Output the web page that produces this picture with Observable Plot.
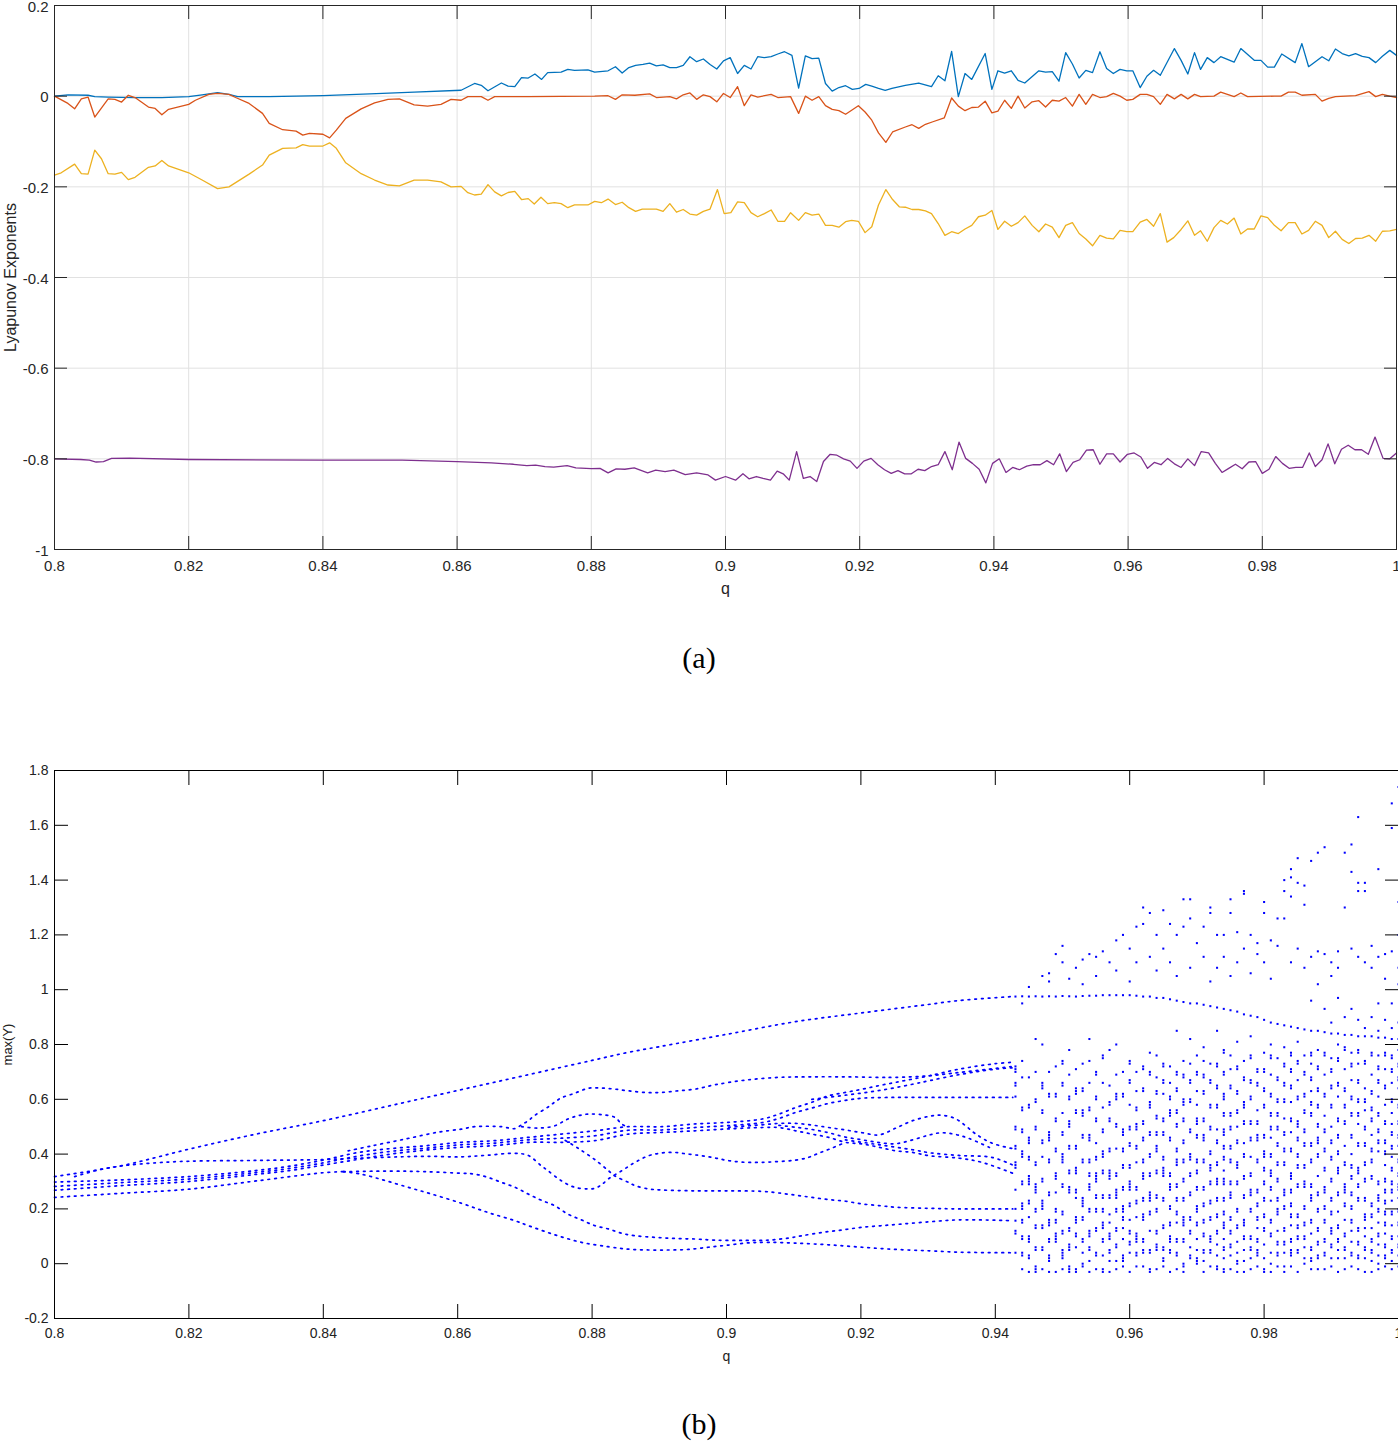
<!DOCTYPE html>
<html><head><meta charset="utf-8">
<script src="https://cdn.jsdelivr.net/npm/d3@7"></script>
<script src="https://cdn.jsdelivr.net/npm/@observablehq/plot@0.6"></script>
<style>
body{margin:0;background:#fff;width:1398px;height:1444px;position:relative;overflow:hidden}
.panel{position:absolute;left:0}
.cap{position:absolute;left:0;width:1398px;text-align:center;font-family:"Liberation Serif","DejaVu Serif",serif;font-size:30px;line-height:34px;color:#000}
</style></head><body>
<div id="a" class="panel" style="top:0"></div>
<div class="cap" style="top:641px">(a)</div>
<div id="b" class="panel" style="top:760px"></div>
<div class="cap" style="top:1407px">(b)</div>
<script>
// ---------- tick values ----------
const xTicks = [0.8,0.82,0.84,0.86,0.88,0.9,0.92,0.94,0.96,0.98,1];
const yTicksA = [-1,-0.8,-0.6,-0.4,-0.2,0,0.2];
const yTicksB = [-0.2,0,0.2,0.4,0.6,0.8,1,1.2,1.4,1.6,1.8];

// ---------- panel (a): Lyapunov exponents [q, value] ----------
const lyap1 = [[0.800,0.000],[0.802,0.003],[0.805,0.002],[0.806,-0.001],[0.808,-0.002],[0.812,-0.003],[0.816,-0.003],[0.820,-0.001],[0.822,0.003],[0.8243,0.008],[0.826,0.004],[0.8273,-0.001],[0.832,-0.001],[0.840,0.001],[0.847,0.005],[0.8536,0.009],[0.8606,0.013],
[0.8626,0.028],[0.8636,0.024],[0.8646,0.012],[0.8666,0.029],[0.8676,0.022],[0.8686,0.021],[0.8696,0.041],[0.8706,0.040],[0.8716,0.049],[0.8726,0.037],[0.8735,0.052],[0.8755,0.053],[0.8765,0.059],[0.8775,0.057],[0.8795,0.058],[0.8805,0.053],[0.8825,0.056],[0.8836,0.065],[0.8846,0.051],[0.8856,0.063],[0.8866,0.068],[0.8877,0.070],[0.8887,0.073],[0.8897,0.067],[0.8907,0.069],[0.8917,0.063],[0.8927,0.063],[0.8937,0.068],[0.8947,0.087],[0.8957,0.076],[0.8967,0.082],[0.8977,0.070],[0.8987,0.060],[0.8997,0.078],[0.9007,0.085],[0.9018,0.050],[0.9028,0.068],[0.9038,0.060],[0.9048,0.087],[0.9058,0.085],[0.9068,0.087],[0.9078,0.093],[0.9088,0.098],[0.9099,0.090],[0.9109,0.018],[0.9119,0.089],[0.9129,0.083],[0.9139,0.084],[0.9149,0.028],[0.9159,0.011],[0.9169,0.019],[0.9179,0.023],[0.9189,0.015],[0.9199,0.017],[0.9209,0.026],[0.9218,0.022],[0.9228,0.017],[0.9238,0.013],[0.9248,0.017],[0.9268,0.024],[0.9288,0.029],
[0.9307,0.021],[0.9317,0.045],[0.9327,0.034],[0.9337,0.099],[0.9347,-0.001],[0.9357,0.050],[0.9367,0.037],[0.9387,0.094],[0.9397,0.015],[0.9406,0.056],[0.9416,0.051],[0.9426,0.056],[0.9436,0.035],[0.9446,0.029],[0.9467,0.056],[0.9477,0.053],[0.9487,0.054],[0.9497,0.033],[0.9507,0.096],[0.9517,0.071],[0.9527,0.040],[0.9537,0.057],[0.9547,0.052],[0.9558,0.098],[0.9568,0.061],[0.9578,0.050],[0.9588,0.059],[0.9598,0.056],[0.9607,0.056],[0.9618,0.019],[0.9628,0.044],[0.9638,0.057],[0.9648,0.046],[0.9669,0.105],[0.9679,0.079],[0.9689,0.049],[0.9699,0.096],[0.9708,0.059],[0.9718,0.085],[0.9728,0.074],[0.9738,0.087],[0.9758,0.075],[0.9768,0.105],[0.9788,0.079],[0.9798,0.079],[0.9808,0.064],[0.9818,0.064],[0.9829,0.093],[0.9849,0.074],[0.9859,0.116],[0.9869,0.065],[0.9889,0.087],[0.9899,0.078],[0.9909,0.104],[0.9919,0.094],[0.9929,0.089],[0.9939,0.094],[0.9949,0.088],[0.9959,0.085],[0.9969,0.074],[0.9979,0.088],[0.9990,0.101],[1.000,0.090]];

const lyap2 = [[0.800,0.000],[0.802,-0.016],[0.803,-0.028],[0.804,-0.006],[0.805,-0.002],[0.806,-0.046],[0.808,-0.006],[0.809,-0.007],[0.810,-0.013],[0.811,0.002],[0.812,-0.003],[0.814,-0.024],[0.815,-0.027],[0.816,-0.041],[0.817,-0.029],[0.820,-0.018],[0.821,-0.009],[0.823,0.004],[0.8243,0.006],[0.826,0.004],[0.827,-0.003],[0.829,-0.016],[0.831,-0.038],[0.832,-0.060],[0.834,-0.074],[0.836,-0.077],[0.837,-0.086],[0.838,-0.082],[0.840,-0.084],[0.841,-0.092],[0.842,-0.075],[0.8434,-0.049],[0.8457,-0.028],[0.8477,-0.015],[0.8497,-0.007],[0.8514,-0.006],[0.8536,-0.019],[0.8556,-0.022],[0.8576,-0.018],[0.8591,-0.007],[0.8606,-0.009],[0.8616,-0.001],[0.8636,-0.001],[0.8646,-0.009],[0.8656,-0.001],[0.8706,-0.001],[0.8805,0.000],[0.8825,0.001],[0.8836,-0.007],[0.8846,0.003],[0.8865,0.002],[0.8887,0.005],[0.8897,-0.003],[0.8917,-0.001],[0.8927,-0.006],[0.8937,0.003],[0.8947,0.007],[0.8957,-0.007],[0.8967,0.003],[0.8977,-0.001],[0.8987,-0.0125],[0.8997,0.006],[0.9007,-0.003],[0.9018,0.021],[0.9028,-0.021],[0.9038,0.003],[0.9048,-0.002],[0.9068,0.004],[0.9078,-0.003],[0.9097,-0.001],[0.9109,-0.038],[0.9119,0.000],[0.9129,-0.009],[0.9139,-0.001],[0.9149,-0.021],[0.9159,-0.029],[0.9169,-0.032],[0.9179,-0.040],[0.9188,-0.031],[0.9198,-0.021],[0.9208,-0.035],[0.9218,-0.053],[0.9228,-0.081],[0.9239,-0.102],[0.9249,-0.079],[0.9268,-0.068],[0.9278,-0.063],[0.9288,-0.071],[0.9298,-0.062],[0.9308,-0.057],[0.9326,-0.048],[0.9337,-0.004],[0.9347,-0.022],[0.9357,-0.032],[0.9367,-0.025],[0.9377,-0.024],[0.9387,-0.011],[0.9397,-0.037],[0.9406,-0.033],[0.9416,-0.009],[0.9426,-0.027],[0.9436,0.000],[0.9446,-0.026],[0.9457,-0.0125],[0.9467,-0.010],[0.9477,-0.024],[0.9487,-0.009],[0.9497,-0.011],[0.9507,-0.003],[0.9517,-0.022],[0.9527,0.004],[0.9537,-0.018],[0.9547,0.004],[0.9558,-0.003],[0.9568,-0.001],[0.9578,0.006],[0.9588,0.000],[0.9598,-0.009],[0.9607,-0.007],[0.9618,0.004],[0.9628,0.004],[0.9638,-0.001],[0.9648,-0.018],[0.9658,0.004],[0.9669,-0.006],[0.9679,0.004],[0.9689,-0.006],[0.9699,0.004],[0.9708,-0.001],[0.9728,0.000],[0.9738,0.009],[0.9758,-0.001],[0.9768,0.007],[0.9778,-0.001],[0.9818,0.000],[0.9828,0.000],[0.9839,0.009],[0.9849,0.009],[0.9859,0.002],[0.9879,0.004],[0.9889,-0.011],[0.9899,-0.005],[0.9909,-0.001],[0.9939,0.001],[0.9959,0.010],[0.9969,-0.001],[0.9979,0.004],[0.9990,0.000],[1.000,-0.003]];

const lyap3 = [[0.800,-0.174],[0.801,-0.169],[0.803,-0.150],[0.804,-0.171],[0.805,-0.172],[0.806,-0.119],[0.807,-0.138],[0.808,-0.171],[0.809,-0.172],[0.810,-0.168],[0.811,-0.184],[0.812,-0.179],[0.814,-0.157],[0.815,-0.154],[0.816,-0.142],[0.817,-0.154],[0.820,-0.169],[0.822,-0.185],[0.8243,-0.204],[0.826,-0.200],[0.829,-0.172],[0.831,-0.152],[0.832,-0.130],[0.834,-0.115],[0.836,-0.114],[0.837,-0.107],[0.838,-0.110],[0.840,-0.110],[0.841,-0.103],[0.842,-0.115],[0.8434,-0.147],[0.8457,-0.171],[0.8477,-0.185],[0.8497,-0.196],[0.8514,-0.198],[0.8536,-0.185],[0.8556,-0.185],[0.8576,-0.189],[0.8591,-0.200],[0.8606,-0.199],[0.8616,-0.213],[0.8626,-0.218],[0.8636,-0.216],[0.8646,-0.195],[0.8656,-0.211],[0.8666,-0.220],[0.8676,-0.2125],[0.8686,-0.210],[0.8696,-0.228],[0.8706,-0.226],[0.8715,-0.238],[0.8725,-0.223],[0.8735,-0.237],[0.8745,-0.235],[0.8755,-0.237],[0.8765,-0.246],[0.8775,-0.240],[0.8795,-0.240],[0.8805,-0.232],[0.8815,-0.235],[0.8825,-0.227],[0.8836,-0.239],[0.8846,-0.234],[0.8856,-0.246],[0.8866,-0.254],[0.8876,-0.249],[0.8897,-0.249],[0.8907,-0.254],[0.8917,-0.237],[0.8927,-0.256],[0.8937,-0.250],[0.8947,-0.260],[0.8957,-0.2625],[0.8967,-0.254],[0.8977,-0.249],[0.8988,-0.206],[0.8998,-0.259],[0.9008,-0.257],[0.9018,-0.233],[0.9028,-0.235],[0.9038,-0.257],[0.9048,-0.266],[0.9058,-0.259],[0.9068,-0.251],[0.9078,-0.276],[0.9088,-0.276],[0.9097,-0.257],[0.9109,-0.274],[0.9119,-0.257],[0.9129,-0.2625],[0.9139,-0.260],[0.9149,-0.285],[0.9159,-0.285],[0.9169,-0.289],[0.9179,-0.277],[0.9188,-0.274],[0.9198,-0.276],[0.9208,-0.301],[0.9218,-0.288],[0.9228,-0.240],[0.9239,-0.206],[0.9249,-0.228],[0.9259,-0.244],[0.9268,-0.245],[0.9278,-0.250],[0.9288,-0.250],[0.9298,-0.253],[0.9307,-0.259],[0.9317,-0.281],[0.9327,-0.307],[0.9337,-0.299],[0.9347,-0.303],[0.9357,-0.293],[0.9367,-0.285],[0.9377,-0.266],[0.9387,-0.2625],[0.9397,-0.252],[0.9406,-0.294],[0.9416,-0.276],[0.9426,-0.287],[0.9436,-0.279],[0.9446,-0.264],[0.9457,-0.285],[0.9467,-0.299],[0.9477,-0.282],[0.9487,-0.289],[0.9497,-0.312],[0.9507,-0.285],[0.9517,-0.279],[0.9527,-0.303],[0.9537,-0.315],[0.9547,-0.330],[0.9558,-0.307],[0.9568,-0.313],[0.9578,-0.315],[0.9588,-0.296],[0.9598,-0.299],[0.9607,-0.299],[0.9618,-0.278],[0.9628,-0.272],[0.9638,-0.287],[0.9648,-0.259],[0.9658,-0.322],[0.9668,-0.312],[0.9679,-0.294],[0.9689,-0.275],[0.9699,-0.307],[0.9708,-0.297],[0.9718,-0.320],[0.9728,-0.290],[0.9738,-0.274],[0.9748,-0.282],[0.9758,-0.269],[0.9768,-0.304],[0.9778,-0.293],[0.9788,-0.293],[0.9798,-0.264],[0.9808,-0.268],[0.9818,-0.285],[0.9828,-0.297],[0.9839,-0.279],[0.9849,-0.279],[0.9859,-0.304],[0.9869,-0.296],[0.9879,-0.276],[0.9889,-0.285],[0.9899,-0.312],[0.9909,-0.298],[0.9919,-0.316],[0.9929,-0.325],[0.9939,-0.314],[0.9949,-0.313],[0.9959,-0.307],[0.9969,-0.320],[0.9979,-0.298],[0.9990,-0.297],[1.000,-0.294]];

const lyap4 = [[0.800,-0.800],[0.8039,-0.8015],[0.8052,-0.803],[0.8062,-0.807],[0.8073,-0.806],[0.8085,-0.799],[0.8112,-0.7985],[0.820,-0.8015],[0.840,-0.803],[0.8518,-0.803],[0.860,-0.806],[0.8651,-0.809],[0.8684,-0.812],[0.8704,-0.815],[0.8717,-0.814],[0.8731,-0.817],[0.8744,-0.8185],[0.8764,-0.815],[0.8777,-0.820],[0.880,-0.8215],[0.8813,-0.821],[0.8825,-0.831],[0.8837,-0.822],[0.885,-0.823],[0.8864,-0.820],[0.8884,-0.831],[0.8896,-0.825],[0.891,-0.828],[0.8923,-0.825],[0.894,-0.835],[0.8957,-0.831],[0.8974,-0.8355],[0.8985,-0.847],[0.900,-0.839],[0.9015,-0.847],[0.9026,-0.833],[0.9035,-0.844],[0.9046,-0.839],[0.9056,-0.843],[0.9067,-0.847],[0.9077,-0.827],[0.9086,-0.833],[0.9095,-0.847],[0.9106,-0.784],[0.9116,-0.843],[0.9126,-0.839],[0.9136,-0.850],[0.9146,-0.806],[0.9156,-0.790],[0.9166,-0.792],[0.9176,-0.800],[0.9186,-0.805],[0.9196,-0.821],[0.9206,-0.805],[0.9217,-0.799],[0.9227,-0.813],[0.9237,-0.824],[0.9247,-0.832],[0.9257,-0.826],[0.9267,-0.833],[0.9277,-0.833],[0.9287,-0.823],[0.9297,-0.826],[0.9307,-0.817],[0.9317,-0.813],[0.9327,-0.784],[0.9338,-0.824],[0.9348,-0.763],[0.9358,-0.799],[0.9368,-0.810],[0.9378,-0.823],[0.9388,-0.853],[0.9398,-0.810],[0.9408,-0.800],[0.9418,-0.830],[0.9428,-0.819],[0.9438,-0.824],[0.9449,-0.816],[0.9459,-0.813],[0.9469,-0.813],[0.9479,-0.804],[0.9489,-0.813],[0.9498,-0.789],[0.9508,-0.828],[0.9518,-0.808],[0.9528,-0.802],[0.9538,-0.781],[0.9548,-0.780],[0.9558,-0.812],[0.9568,-0.789],[0.9578,-0.789],[0.9588,-0.807],[0.9599,-0.790],[0.9609,-0.787],[0.9619,-0.796],[0.9629,-0.821],[0.9639,-0.808],[0.9649,-0.813],[0.9659,-0.799],[0.9669,-0.811],[0.9679,-0.819],[0.9689,-0.800],[0.9699,-0.815],[0.9709,-0.784],[0.9720,-0.787],[0.9730,-0.810],[0.9740,-0.830],[0.9750,-0.821],[0.9760,-0.812],[0.9770,-0.822],[0.9780,-0.807],[0.9790,-0.806],[0.9800,-0.832],[0.9810,-0.823],[0.9820,-0.795],[0.9830,-0.810],[0.9840,-0.821],[0.9850,-0.819],[0.9860,-0.819],[0.9870,-0.787],[0.9879,-0.817],[0.9889,-0.802],[0.9898,-0.767],[0.9908,-0.811],[0.9918,-0.779],[0.9928,-0.770],[0.9938,-0.780],[0.9948,-0.780],[0.9958,-0.790],[0.9968,-0.752],[0.9980,-0.799],[0.9990,-0.800],[1.000,-0.787]];

// ---------- panel (b): periodic branches [q, max(Y)] ----------
const brTop = [[0.800,0.318],[0.810,0.358],[0.820,0.418],[0.830,0.473],[0.840,0.522],[0.850,0.577],[0.8605,0.635],[0.870,0.687],[0.880,0.742],[0.8853,0.771],[0.890,0.792],[0.900,0.837],[0.9102,0.883],[0.920,0.915],[0.930,0.946],[0.9344,0.960],[0.9426,0.975]];
const brS = [[0.803,0.318],[0.807,0.345],[0.810,0.357],[0.815,0.368],[0.820,0.374],[0.830,0.377],[0.840,0.380],[0.845,0.385],[0.850,0.389],[0.855,0.392],[0.8605,0.390],[0.8645,0.396],[0.8685,0.403],[0.8705,0.395],[0.8724,0.358],[0.8734,0.340],[0.8754,0.303],[0.8774,0.279],[0.8794,0.273],[0.8804,0.275],[0.8814,0.288],[0.8824,0.309],[0.8844,0.339],[0.8864,0.370],[0.8884,0.394],[0.8903,0.404],[0.8923,0.406],[0.8943,0.400],[0.8963,0.394],[0.8983,0.386],[0.9003,0.376],[0.9028,0.370],[0.9053,0.370],[0.9078,0.373],[0.9103,0.378],[0.9122,0.388],[0.9137,0.403],[0.9157,0.422],[0.9177,0.443]];
const brBand1 = [[0.800,0.298],[0.810,0.306],[0.820,0.318],[0.830,0.340],[0.835,0.356],[0.840,0.378],[0.845,0.405],[0.850,0.420],[0.855,0.430],[0.8605,0.443],[0.8655,0.449],[0.8705,0.461],[0.8754,0.473],[0.8804,0.485],[0.8854,0.500],[0.8904,0.500],[0.8953,0.510],[0.9003,0.516],[0.9053,0.528],[0.9078,0.546],[0.9103,0.570],[0.9127,0.589],[0.9152,0.613],[0.9177,0.625],[0.9202,0.637],[0.9227,0.650],[0.9252,0.662],[0.9277,0.674],[0.9302,0.686],[0.9346,0.710],[0.9400,0.730],[0.9426,0.735]];
const brBand2 = [[0.800,0.282],[0.810,0.296],[0.820,0.309],[0.830,0.333],[0.835,0.348],[0.840,0.368],[0.845,0.392],[0.850,0.410],[0.855,0.421],[0.8605,0.434],[0.8655,0.440],[0.8705,0.452],[0.8754,0.458],[0.8804,0.467],[0.8854,0.487],[0.8904,0.488],[0.8953,0.497],[0.9003,0.504],[0.9053,0.515],[0.9078,0.530],[0.9103,0.552],[0.9127,0.568],[0.9152,0.585],[0.9177,0.596],[0.9202,0.604],[0.9252,0.607],[0.9302,0.607],[0.9346,0.607],[0.9426,0.607]];
const brBand3 = [[0.800,0.268],[0.810,0.285],[0.820,0.300],[0.830,0.326],[0.835,0.340],[0.840,0.360],[0.845,0.380],[0.850,0.400],[0.855,0.414],[0.8605,0.425],[0.8655,0.431],[0.8705,0.443],[0.8754,0.443],[0.8804,0.449],[0.8854,0.473],[0.8904,0.479],[0.8953,0.485],[0.9003,0.492],[0.9053,0.497],[0.9078,0.497],[0.9103,0.485],[0.9127,0.473],[0.9152,0.461],[0.9177,0.443],[0.9202,0.437],[0.9227,0.425],[0.9252,0.412],[0.9277,0.406],[0.9302,0.394],[0.9346,0.385],[0.9380,0.370],[0.9426,0.330]];
const brBand4 = [[0.9003,0.498],[0.9053,0.507],[0.9078,0.512],[0.9103,0.512],[0.9127,0.506],[0.9152,0.497],[0.9177,0.488],[0.9202,0.478],[0.9227,0.470],[0.9252,0.495],[0.9277,0.522],[0.9302,0.538],[0.9320,0.542],[0.9340,0.530],[0.9355,0.505],[0.9370,0.475],[0.9395,0.440],[0.9426,0.420]];
const brBand5 = [[0.9078,0.505],[0.9103,0.498],[0.9127,0.490],[0.9152,0.478],[0.9177,0.462],[0.9202,0.452],[0.9227,0.442],[0.9252,0.438],[0.9277,0.452],[0.9302,0.470],[0.9320,0.478],[0.9340,0.472],[0.9360,0.458],[0.9395,0.420]];
const brBand6 = [[0.9127,0.600],[0.9177,0.615],[0.9227,0.632],[0.9277,0.655],[0.9302,0.668],[0.9346,0.690],[0.9400,0.710],[0.9426,0.715]];
const brBand7 = [[0.9177,0.452],[0.9227,0.434],[0.9277,0.416],[0.9302,0.405],[0.9346,0.395],[0.9395,0.388],[0.9426,0.360]];
const brLow0 = [[0.800,0.242],[0.810,0.257],[0.820,0.272],[0.830,0.302],[0.840,0.332],[0.843,0.336]];
const brDown = [[0.843,0.336],[0.8456,0.327],[0.849,0.305],[0.8526,0.279],[0.856,0.255],[0.8605,0.221],[0.8645,0.187],[0.8685,0.157],[0.8705,0.139],[0.8744,0.106],[0.8784,0.078],[0.8824,0.062],[0.8854,0.053],[0.8884,0.050],[0.8914,0.050],[0.8943,0.052],[0.8973,0.060],[0.9003,0.068],[0.9033,0.076],[0.9063,0.078],[0.9103,0.075],[0.9152,0.069],[0.9202,0.060],[0.9252,0.052],[0.9302,0.047],[0.9346,0.042],[0.9426,0.040]];
const brUp = [[0.843,0.336],[0.850,0.338],[0.855,0.336],[0.8605,0.330],[0.8625,0.327],[0.8645,0.315],[0.8665,0.297],[0.8685,0.279],[0.8705,0.254],[0.8724,0.232],[0.8744,0.212],[0.8764,0.181],[0.8784,0.160],[0.8804,0.139],[0.8824,0.127],[0.8844,0.111],[0.8864,0.102],[0.8894,0.096],[0.8923,0.092],[0.8953,0.090],[0.8983,0.086],[0.9028,0.085],[0.9063,0.086],[0.9093,0.094],[0.9112,0.102],[0.9142,0.114],[0.9172,0.123],[0.9202,0.133],[0.9232,0.139],[0.9262,0.145],[0.9302,0.153],[0.9346,0.160],[0.9426,0.157]];
const brH = [[0.8437,0.412],[0.8472,0.430],[0.8522,0.455],[0.8571,0.480],[0.8605,0.491],[0.8625,0.500],[0.8665,0.500],[0.8685,0.493],[0.8695,0.507],[0.8705,0.522],[0.8714,0.540],[0.8734,0.571],[0.8744,0.589],[0.8754,0.605],[0.8774,0.622],[0.8794,0.640],[0.8814,0.641],[0.8834,0.637],[0.8854,0.631],[0.8878,0.625],[0.8903,0.625],[0.8928,0.631],[0.8953,0.637],[0.8983,0.653],[0.9028,0.670],[0.9078,0.680],[0.9127,0.682],[0.9177,0.682],[0.9227,0.680],[0.9252,0.680],[0.9302,0.686],[0.9346,0.698],[0.9426,0.720]];
const brG = [[0.8695,0.500],[0.8720,0.495],[0.8744,0.503],[0.8764,0.528],[0.8779,0.540],[0.8794,0.546],[0.8814,0.544],[0.8834,0.534],[0.8844,0.510],[0.8854,0.497]];
const brF = [[0.8760,0.450],[0.8780,0.420],[0.8804,0.380],[0.8824,0.340],[0.8834,0.320],[0.8854,0.297],[0.8864,0.285],[0.8884,0.273],[0.8903,0.269],[0.8953,0.266],[0.9003,0.266],[0.9053,0.264],[0.9078,0.258],[0.9103,0.250],[0.9127,0.242],[0.9152,0.234],[0.9177,0.228],[0.9202,0.218],[0.9227,0.212],[0.9252,0.206],[0.9302,0.202],[0.9346,0.200],[0.9426,0.200]];
const branches = [brTop, brS, brBand1, brBand2, brBand3, brBand4, brBand5, brBand6, brBand7, brLow0, brDown, brUp, brH, brG, brF];

// ---------- panel (b): chaotic region, maxima per q column ----------
const chaosQ = [0.943,0.944,0.945,0.946,0.947,0.948,0.949,0.950,0.951,0.952,0.953,0.954,0.955,0.956,0.957,0.958,0.959,0.960,0.961,0.962,0.963,0.964,0.965,0.966,0.967,0.968,0.969,0.970,0.971,0.972,0.973,0.974,0.975,0.976,0.977,0.978,0.979,0.980,0.981,0.982,0.983,0.984,0.985,0.986,0.987,0.988,0.989,0.990,0.991,0.992,0.993,0.994,0.995,0.996,0.997,0.998,0.999,1.000];
const chaosV = [
[0.975,0.72,0.71,0.70,0.61,0.50,0.49,0.37,0.36,0.35,0.2,0.157,0.04],
[0.976,0.95,0.74,0.57,0.56,0.41,0.40,0.39,0.22,0.21,0.20,0.16,0.15,0.04,0.03],
[1.01,0.975,0.68,0.46,0.45,0.44,0.32,0.31,0.30,0.29,0.17,0.10,0.09,0.08],
[0.976,0.82,0.60,0.59,0.29,0.28,0.27,0.26,0.14,0.13,-0.01,-0.02,-0.03],
[1.05,0.975,0.66,0.65,0.64,0.39,0.23,0.22,0.21,0.20,0.06,0.05],
[1.06,1.03,0.976,0.70,0.48,0.47,0.46,0.45,0.16,0.15,0.14,0.03,0.02,0.01],
[1.13,0.975,0.62,0.61,0.33,0.32,0.31,0.26,0.11,0.10,0.09,0.08,-0.03],
[1.16,1.10,0.977,0.74,0.73,0.55,0.40,0.39,0.38,0.37,0.19,0.18,0.05,0.04,0.03,0.02],
[1.04,0.976,0.69,0.52,0.51,0.50,0.28,0.27,0.26,0.13,0.12,-0.01,-0.02,-0.03],
[1.08,0.975,0.64,0.63,0.62,0.43,0.42,0.35,0.34,0.33,0.17,0.16,0.15,0.06],
[1.11,1.02,0.977,0.73,0.56,0.55,0.54,0.24,0.23,0.22,0.21,0.09,0.08,0.0,-0.01],
[1.13,0.978,0.82,0.66,0.47,0.46,0.45,0.38,0.37,0.29,0.28,0.27,0.12,0.11,0.10,-0.03],
[1.12,1.05,0.978,0.61,0.60,0.44,0.33,0.32,0.31,0.30,0.20,0.19,0.04,0.03],
[1.14,0.98,0.76,0.75,0.57,0.41,0.40,0.39,0.25,0.24,0.15,0.14,0.13,-0.02,-0.03],
[1.10,0.98,0.65,0.53,0.52,0.34,0.33,0.32,0.31,0.18,0.11,0.10,0.09,0.01],
[1.18,1.07,0.98,0.80,0.62,0.61,0.60,0.42,0.27,0.26,0.25,0.24,0.07,0.06,-0.02],
[1.20,0.98,0.70,0.49,0.48,0.47,0.36,0.35,0.21,0.20,0.19,0.13,0.03,0.02,0.01],
[1.15,1.03,0.98,0.67,0.66,0.58,0.44,0.43,0.30,0.29,0.28,0.27,0.16,0.08,0.07,-0.03],
[1.23,1.10,0.978,0.63,0.51,0.50,0.49,0.37,0.23,0.22,0.11,0.10,0.09,0.08,-0.01],
[1.30,1.24,0.975,0.72,0.71,0.46,0.45,0.33,0.32,0.31,0.18,0.17,0.16,0.05,0.04],
[1.28,1.12,0.975,0.77,0.59,0.58,0.57,0.40,0.39,0.26,0.25,0.24,0.23,0.12,-0.02,-0.03],
[1.20,1.07,0.97,0.68,0.54,0.53,0.43,0.42,0.41,0.20,0.19,0.07,0.06,0.05],
[1.29,1.15,0.97,0.73,0.72,0.62,0.48,0.47,0.35,0.34,0.33,0.32,0.14,0.13,0.02,0.01],
[1.24,1.10,0.965,0.66,0.56,0.55,0.54,0.29,0.28,0.27,0.21,0.20,0.10,0.09,0.08,-0.03],
[1.20,1.05,0.96,0.85,0.70,0.69,0.51,0.50,0.38,0.37,0.36,0.24,0.23,0.15,0.04,0.03],
[1.33,1.23,0.955,0.74,0.60,0.59,0.58,0.45,0.44,0.31,0.30,0.17,0.16,0.15,0.14,0.0,-0.01],
[1.33,1.26,1.08,0.95,0.82,0.67,0.66,0.40,0.39,0.38,0.26,0.25,0.12,0.11,0.06],
[1.17,0.95,0.76,0.63,0.53,0.52,0.51,0.34,0.33,0.21,0.20,0.19,0.09,0.02,0.01,0.0],
[1.23,1.12,0.945,0.79,0.69,0.68,0.47,0.46,0.45,0.28,0.27,0.16,0.15,0.05,0.04,-0.03],
[1.30,1.28,1.03,0.94,0.73,0.58,0.57,0.41,0.40,0.36,0.35,0.34,0.23,0.22,0.10,0.09,0.08],
[1.20,1.08,0.935,0.85,0.65,0.64,0.49,0.31,0.30,0.29,0.18,0.17,0.07,-0.01,-0.02],
[1.20,1.12,0.93,0.78,0.77,0.62,0.61,0.60,0.49,0.48,0.47,0.39,0.38,0.31,0.30,0.29,0.24,0.23,0.15,0.14,0.13,0.06,0.05,-0.02,-0.03],
[1.33,1.28,1.05,0.925,0.71,0.55,0.54,0.43,0.42,0.26,0.25,0.24,0.12,0.11,0.03],
[1.21,1.10,0.92,0.81,0.63,0.62,0.50,0.37,0.36,0.35,0.20,0.19,0.08,0.01,0.0],
[1.36,1.35,1.15,0.91,0.74,0.59,0.58,0.57,0.44,0.32,0.31,0.16,0.15,0.14,0.05,-0.03],
[1.20,1.06,0.905,0.83,0.67,0.66,0.52,0.51,0.39,0.27,0.26,0.25,0.10,0.09,0.02],
[1.17,1.13,0.90,0.71,0.70,0.56,0.47,0.46,0.45,0.22,0.21,0.13,0.05,0.04,0.03],
[1.32,1.28,1.10,0.89,0.77,0.64,0.63,0.41,0.40,0.39,0.30,0.29,0.18,0.17,0.07,-0.02,-0.03],
[1.18,1.04,0.88,0.80,0.69,0.55,0.54,0.46,0.34,0.33,0.32,0.23,0.11,0.10,0.0],
[1.26,1.16,0.875,0.75,0.60,0.59,0.50,0.49,0.37,0.36,0.20,0.19,0.18,0.12,0.04,0.03],
[1.40,1.36,1.26,0.87,0.79,0.66,0.65,0.53,0.42,0.41,0.27,0.26,0.25,0.08,0.07,-0.01],
[1.44,1.41,1.34,1.10,0.865,0.71,0.70,0.59,0.48,0.33,0.32,0.31,0.22,0.21,0.14,0.05,0.04,0.03],
[1.48,1.39,1.15,0.86,0.81,0.67,0.52,0.51,0.50,0.36,0.35,0.18,0.17,0.10,0.09,-0.03],
[1.38,1.31,1.08,0.855,0.76,0.62,0.61,0.44,0.43,0.30,0.29,0.28,0.15,0.14,0.06,0.0],
[1.47,1.12,0.96,0.85,0.73,0.63,0.55,0.54,0.38,0.37,0.25,0.24,0.23,0.11,0.02,0.01],
[1.50,1.14,1.02,0.85,0.78,0.58,0.57,0.46,0.45,0.44,0.32,0.20,0.19,0.08,0.07,-0.02],
[1.52,1.13,0.93,0.845,0.69,0.54,0.42,0.41,0.28,0.27,0.26,0.16,0.15,0.04,0.03],
[1.10,1.05,0.88,0.84,0.75,0.65,0.64,0.50,0.39,0.38,0.24,0.23,0.13,0.12,0.11,-0.01],
[1.14,1.08,0.97,0.84,0.80,0.61,0.47,0.46,0.35,0.34,0.33,0.19,0.09,0.08,0.02,-0.03],
[1.50,1.30,0.90,0.835,0.71,0.58,0.57,0.43,0.29,0.28,0.27,0.26,0.16,0.06,0.05],
[1.53,1.43,1.15,0.93,0.835,0.77,0.67,0.55,0.54,0.40,0.32,0.31,0.21,0.20,0.12,0.04,0.03],
[1.63,1.39,1.36,1.12,0.89,0.83,0.73,0.60,0.59,0.51,0.35,0.34,0.33,0.24,0.23,0.08,0.07,-0.02],
[1.39,1.36,1.10,0.86,0.83,0.64,0.56,0.44,0.43,0.31,0.30,0.18,0.17,0.16,0.10,0.02],
[1.16,1.08,0.90,0.83,0.69,0.53,0.52,0.47,0.38,0.37,0.22,0.21,0.13,0.05,0.04,-0.03],
[1.44,1.12,0.95,0.85,0.825,0.76,0.61,0.49,0.48,0.41,0.25,0.24,0.23,0.15,0.07,0.0],
[1.13,1.04,0.89,0.825,0.71,0.58,0.45,0.44,0.36,0.27,0.26,0.19,0.18,0.11,0.03,0.02],
[1.68,1.59,1.14,0.95,0.86,0.82,0.66,0.55,0.48,0.47,0.39,0.30,0.29,0.23,0.14,0.05,0.04,-0.02],
[1.74,1.32,1.20,1.08,1.02,0.88,0.82,0.78,0.64,0.52,0.51,0.43,0.33,0.32,0.27,0.20,0.19,0.10,0.03]
];
// further maxima in the same columns (lower, denser part of the cloud)
const chaosV2 = [
[0.66,0.65,0.43,0.42,0.27,0.12,0.11],
[0.68,0.49,0.48,0.30,0.29,0.10,0.09,-0.02],
[0.58,0.57,0.39,0.38,0.23,0.22,0.03,0.02,-0.03],
[0.70,0.50,0.49,0.37,0.36,0.20,0.19,0.06,0.05],
[0.80,0.56,0.55,0.45,0.44,0.31,0.30,0.14,0.13,-0.02],
[0.62,0.61,0.38,0.37,0.26,0.25,0.09,0.08,-0.03],
[0.72,0.53,0.52,0.42,0.41,0.20,0.19,0.16,0.15],
[0.66,0.65,0.48,0.47,0.29,0.28,0.12,0.11,-0.02],
[0.78,0.61,0.60,0.43,0.42,0.34,0.33,0.07,0.06,0.05],
[0.71,0.56,0.55,0.27,0.26,0.24,0.11,0.10,-0.02,-0.03],
[0.64,0.63,0.47,0.46,0.38,0.37,0.17,0.16,0.04],
[0.74,0.57,0.56,0.33,0.32,0.20,0.19,0.06,0.05,0.01],
[0.70,0.69,0.53,0.52,0.39,0.38,0.25,0.24,0.13,0.12,-0.02],
[0.66,0.49,0.48,0.34,0.33,0.20,0.19,0.09,0.08,0.03],
[0.78,0.59,0.58,0.42,0.41,0.25,0.24,0.15,0.05,0.04,-0.03],
[0.69,0.51,0.50,0.33,0.32,0.20,0.19,0.13,0.12,0.01],
[0.62,0.61,0.42,0.41,0.28,0.27,0.17,0.16,0.09,-0.01],
[0.74,0.73,0.50,0.49,0.36,0.35,0.22,0.21,0.12,0.11,0.04],
[0.70,0.57,0.56,0.43,0.42,0.28,0.27,0.17,0.04,0.03],
[0.64,0.63,0.52,0.51,0.38,0.37,0.24,0.23,0.09,0.08,-0.01],
[0.70,0.69,0.48,0.47,0.33,0.32,0.19,0.18,0.05,0.04],
[0.76,0.63,0.62,0.48,0.47,0.34,0.33,0.25,0.24,0.12,0.11,-0.02],
[0.67,0.66,0.53,0.52,0.39,0.38,0.24,0.23,0.06,0.05,-0.01],
[0.72,0.61,0.60,0.46,0.45,0.33,0.32,0.15,0.14,0.05,0.04],
[0.64,0.63,0.56,0.55,0.42,0.41,0.29,0.28,0.19,0.18,0.09,0.08,-0.02],
[0.69,0.68,0.53,0.52,0.38,0.37,0.24,0.23,0.09,0.08,-0.03],
[0.73,0.60,0.59,0.49,0.48,0.33,0.32,0.17,0.16,0.03,0.02],
[0.70,0.69,0.58,0.47,0.46,0.38,0.37,0.28,0.27,0.15,0.14,0.05],
[0.74,0.63,0.62,0.53,0.52,0.38,0.37,0.22,0.21,0.11,0.10,0.01],
[0.67,0.66,0.50,0.49,0.30,0.29,0.17,0.16,0.05,0.04,-0.01],
[0.73,0.72,0.58,0.57,0.45,0.44,0.37,0.36,0.24,0.23,0.12,0.11,0.03],
[0.70,0.69,0.55,0.54,0.43,0.42,0.34,0.19,0.18,0.09,0.02],
[0.76,0.65,0.64,0.50,0.49,0.38,0.37,0.30,0.29,0.17,0.16,0.07,0.06,-0.02],
[0.72,0.71,0.56,0.55,0.45,0.44,0.30,0.29,0.14,0.13,0.04,-0.03],
[0.68,0.67,0.52,0.51,0.40,0.39,0.25,0.24,0.10,0.09,0.01],
[0.76,0.75,0.61,0.60,0.46,0.45,0.33,0.32,0.20,0.19,0.06,0.05,-0.02],
[0.66,0.65,0.52,0.51,0.38,0.37,0.27,0.26,0.17,0.16,0.09,0.08,-0.01],
[0.71,0.70,0.58,0.57,0.47,0.46,0.35,0.34,0.24,0.23,0.13,0.12,0.02],
[0.76,0.75,0.62,0.61,0.50,0.49,0.40,0.39,0.28,0.27,0.16,0.15,0.04,-0.03],
[0.68,0.67,0.55,0.54,0.44,0.43,0.31,0.30,0.24,0.23,0.08,0.07,-0.01],
[0.73,0.72,0.60,0.59,0.48,0.47,0.37,0.36,0.21,0.20,0.13,0.12,0.04,-0.03],
[0.77,0.76,0.65,0.64,0.53,0.52,0.42,0.41,0.27,0.26,0.18,0.17,0.09,0.08,-0.01],
[0.74,0.73,0.61,0.60,0.46,0.45,0.40,0.39,0.29,0.28,0.14,0.13,0.05,0.04],
[0.70,0.69,0.56,0.55,0.49,0.48,0.36,0.35,0.21,0.20,0.10,0.09,0.02],
[0.77,0.76,0.68,0.67,0.59,0.58,0.44,0.43,0.29,0.28,0.16,0.15,0.06,0.05,-0.02],
[0.72,0.71,0.64,0.63,0.51,0.50,0.40,0.39,0.26,0.25,0.13,0.12,0.03,0.02],
[0.77,0.76,0.62,0.61,0.49,0.48,0.35,0.34,0.21,0.20,0.09,0.08,-0.02],
[0.71,0.70,0.58,0.57,0.45,0.44,0.31,0.30,0.19,0.18,0.07,0.06,0.02],
[0.75,0.74,0.66,0.65,0.53,0.52,0.41,0.40,0.26,0.25,0.14,0.13,0.05],
[0.79,0.78,0.64,0.63,0.52,0.51,0.37,0.36,0.22,0.21,0.11,0.10,0.02,-0.02],
[0.73,0.72,0.61,0.60,0.47,0.46,0.36,0.35,0.26,0.25,0.16,0.15,0.08,-0.01],
[0.78,0.77,0.67,0.66,0.55,0.54,0.44,0.43,0.29,0.28,0.13,0.12,0.03,0.02],
[0.74,0.73,0.60,0.59,0.50,0.49,0.37,0.36,0.24,0.23,0.13,0.06,0.05,-0.03],
[0.77,0.76,0.63,0.62,0.57,0.56,0.42,0.41,0.32,0.31,0.18,0.17,0.09,0.08,0.01],
[0.72,0.71,0.67,0.66,0.55,0.54,0.45,0.44,0.30,0.29,0.20,0.19,0.11,0.10,0.03,-0.02],
[0.77,0.76,0.65,0.64,0.52,0.51,0.41,0.40,0.31,0.30,0.23,0.22,0.15,0.14,0.07,0.06,-0.01],
[0.76,0.75,0.71,0.70,0.60,0.59,0.51,0.43,0.42,0.35,0.34,0.27,0.26,0.19,0.18,0.10,0.09,0.01],
[0.73,0.72,0.68,0.67,0.58,0.57,0.47,0.46,0.38,0.37,0.29,0.28,0.24,0.15,0.14,0.07,0.06,-0.01]
];

// ---------- helpers ----------
const fmt = d => String(Math.round(d * 100) / 100);
const blank = () => "";
const qx = d => d[0], vy = d => d[1];
const font = "'Liberation Sans', Arial, Helvetica, sans-serif";

// ---------- panel (a) ----------
const axA = "#262626";
const plotA = Plot.plot({
  width: 1398, height: 600,
  marginLeft: 54, marginRight: 2, marginTop: 5, marginBottom: 51,
  x: {domain: [0.8, 1]},
  y: {domain: [-1, 0.2]},
  style: {fontFamily: font, fontSize: "15px", color: axA, background: "white", overflow: "visible"},
  marks: [
    Plot.gridX(xTicks, {stroke: "#e1e1e1", strokeOpacity: 1}),
    Plot.gridY(yTicksA, {stroke: "#e1e1e1", strokeOpacity: 1}),
    Plot.line(lyap1, {x: qx, y: vy, stroke: "#0072BD", strokeWidth: 1.3}),
    Plot.line(lyap2, {x: qx, y: vy, stroke: "#D95319", strokeWidth: 1.3}),
    Plot.line(lyap3, {x: qx, y: vy, stroke: "#EDB120", strokeWidth: 1.3}),
    Plot.line(lyap4, {x: qx, y: vy, stroke: "#7E2F8E", strokeWidth: 1.3}),
    Plot.frame({stroke: axA}),
    Plot.axisX(xTicks, {anchor: "bottom", tickSize: 13, dy: -13, tickFormat: blank, label: null, stroke: axA}),
    Plot.axisX(xTicks, {anchor: "top", tickSize: 13, dy: 13, tickFormat: blank, label: null, stroke: axA}),
    Plot.axisY(yTicksA, {anchor: "left", tickSize: 13, dx: 13, tickFormat: blank, label: null, stroke: axA}),
    Plot.axisY(yTicksA, {anchor: "right", tickSize: 13, dx: -13, tickFormat: blank, label: null, stroke: axA}),
    Plot.axisX(xTicks, {anchor: "bottom", tickSize: 0, tickPadding: 11, tickFormat: fmt, label: null, fill: axA, fontSize: 15}),
    Plot.axisY(yTicksA, {anchor: "left", tickSize: 0, tickPadding: 6, dy: 1.5, tickFormat: fmt, label: null, fill: axA, fontSize: 15}),
    Plot.axisX([], {anchor: "bottom", tickSize: 0, label: "q", labelAnchor: "center", labelArrow: "none", labelOffset: 44, fill: axA, fontSize: 16}),
    Plot.axisY([], {anchor: "left", tickSize: 0, label: "Lyapunov Exponents", labelAnchor: "center", labelArrow: "none", labelOffset: 50, fill: axA, fontSize: 16})
  ]
});
document.getElementById("a").appendChild(plotA);

// ---------- panel (b) ----------
const chaos = chaosQ.flatMap((q, i) => chaosV[i].concat(chaosV2[i]).map(v => [q, v]));
const blue = "#0000ff";
const plotB = Plot.plot({
  width: 1398, height: 620,
  marginLeft: 54, marginRight: 0, marginTop: 10, marginBottom: 62,
  x: {domain: [0.8, 1]},
  y: {domain: [-0.2, 1.8]},
  style: {fontFamily: font, fontSize: "14px", color: "#222", background: "white"},
  marks: [
    ...branches.map(b => Plot.line(b, {x: qx, y: vy, stroke: blue, strokeWidth: 1.7, strokeDasharray: "1.7,5", curve: "catmull-rom"})),
    Plot.dot(chaos, {x: qx, y: vy, symbol: "square", r: 1.15, fill: blue, stroke: null}),
    Plot.frame({stroke: "#000"}),
    Plot.axisX(xTicks, {anchor: "bottom", tickSize: 14, dy: -14, tickFormat: blank, label: null, stroke: "#000"}),
    Plot.axisX(xTicks, {anchor: "top", tickSize: 14, dy: 14, tickFormat: blank, label: null, stroke: "#000"}),
    Plot.axisY(yTicksB, {anchor: "left", tickSize: 14, dx: 14, tickFormat: blank, label: null, stroke: "#000"}),
    Plot.axisY(yTicksB, {anchor: "right", tickSize: 14, dx: -14, tickFormat: blank, label: null, stroke: "#000"}),
    Plot.axisX(xTicks, {anchor: "bottom", tickSize: 0, tickPadding: 10, tickFormat: fmt, label: null, fill: "#222", fontSize: 14}),
    Plot.axisY(yTicksB, {anchor: "left", tickSize: 0, tickPadding: 6, tickFormat: fmt, label: null, fill: "#222", fontSize: 14}),
    Plot.axisX([], {anchor: "bottom", tickSize: 0, label: "q", labelAnchor: "center", labelArrow: "none", labelOffset: 42, fill: "#222", fontSize: 14}),
    Plot.axisY([], {anchor: "left", tickSize: 0, label: "max(Y)", labelAnchor: "center", labelArrow: "none", labelOffset: 52, fill: "#222", fontSize: 13})
  ]
});
document.getElementById("b").appendChild(plotB);
</script>
</body></html>
